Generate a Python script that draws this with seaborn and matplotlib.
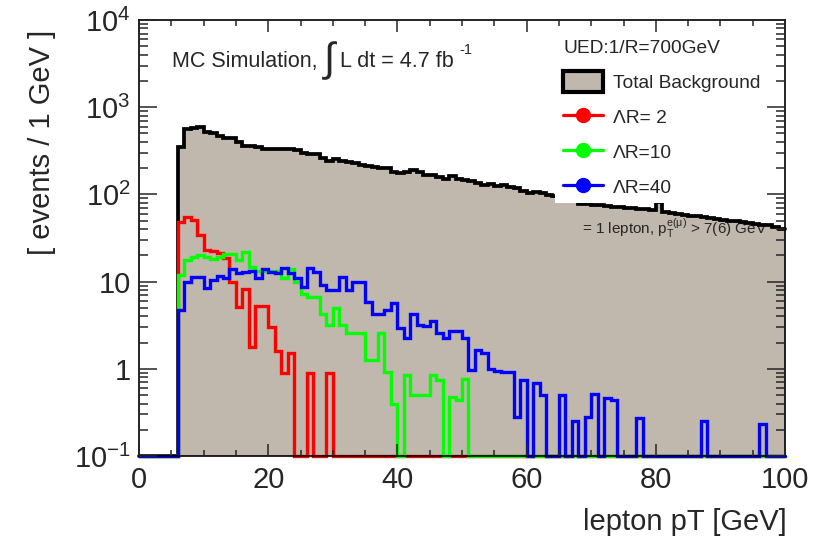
import numpy as np
import pandas as pd
import matplotlib
matplotlib.use("Agg")
import matplotlib.pyplot as plt
import seaborn as sns
from matplotlib.patches import Patch, Rectangle
from matplotlib.lines import Line2D
from matplotlib.ticker import LogLocator, NullFormatter, MultipleLocator

# ---------------- data (1 GeV bins, 0..100 GeV) ----------------
bin_edges = list(range(0, 101))

background = [0, 0, 0, 0, 0, 0,
              352, 561, 572, 592, 523, 501, 471, 440, 447, 402,
              362, 356, 347, 334, 331, 331, 329, 329, 325, 296,
              288, 288, 263, 241, 252, 241, 237, 227, 217, 213,
              204, 199, 199, 180, 178, 180, 188, 183, 168, 166,
              158, 152, 164, 150, 147, 141, 134, 128, 132, 124,
              127, 121, 117, 110, 104, 106, 103, 98, 95, 92,
              90, 86, 78, 77, 76, 75, 73, 72, 71, 70,
              70, 68, 68, 67, 82, 63, 61, 60, 58, 57,
              56, 55, 53, 52, 51, 50, 49, 48, 47, 46,
              45, 44, 42, 40]

signal_dr2 = [0, 0, 0, 0, 0, 0,
              48, 55, 51, 34, 23, 22.5, 21.5, 18.5, 10, 5.1,
              8.2, 1.8, 5.2, 5.2, 3.0, 1.6, 0.9, 1.5, 0, 0,
              0.9, 0, 0, 0.9, 0, 0, 0, 0, 0, 0] + [0] * 64

signal_dr10 = [0, 0, 0, 0, 0, 0,
               12, 17.5, 19.4, 20, 19, 18, 19.4, 21, 20.5, 17.7,
               22, 14.6, 13.4, 13.4, 13.4, 13.4, 10.9, 14, 9.8, 7.2,
               6.6, 6.6, 4.3, 3.2, 5.0, 3.2, 2.6, 2.6, 2.6, 1.27,
               1.27, 2.6, 0.93, 0.40, 0, 0.86, 0.5, 0.5, 0.5, 0.86,
               0.75, 0, 0.48, 0.44, 0.76, 0, 0, 0, 0, 0] + [0] * 44

signal_dr40 = [0, 0, 0, 0, 0, 0,
               4.7, 10, 11.3, 11.3, 8.5, 10.5, 11.5, 11, 13.8, 12.5,
               12.8, 13.1, 11, 13.8, 12.8, 12.7, 14.2, 12.4, 11, 8.7,
               14.2, 13, 9.2, 8.0, 8.1, 11.2, 8.0, 10, 10, 5.9,
               4.2, 4.2, 4.7, 5.7, 2.9, 2.25, 4.3, 3.2, 3.1, 3.5,
               2.6, 2.25, 2.7, 2.7, 2.25, 0.97, 1.65, 1.5, 1.0, 0.95,
               0.93, 0.93, 0.28, 0.75, 0, 0.69, 0.5, 0, 0, 0.5,
               0, 0.25, 0, 0.28, 0.51, 0, 0.46, 0.44, 0, 0,
               0, 0.27, 0, 0, 0, 0, 0, 0, 0, 0,
               0, 0.25, 0, 0, 0, 0, 0, 0, 0, 0,
               0.23, 0, 0, 0]

series_labels = ["Total Background", "\u039bR= 2", "\u039bR=10", "\u039bR=40"]
y_tick_values = [0.1, 1, 10, 100, 1000, 10000]
y_tick_labels = [r"10$^{-1}$", "1", "10", r"10$^{2}$", r"10$^{3}$", r"10$^{4}$"]
x_tick_values = [0, 20, 40, 60, 80, 100]

# ---------------- style ----------------
sns.set_style("ticks")
plt.rcParams["font.family"] = ["Liberation Sans", "DejaVu Sans"]
plt.rcParams["mathtext.fontset"] = "custom"
plt.rcParams["mathtext.rm"] = "Liberation Sans"
plt.rcParams["mathtext.it"] = "Liberation Sans:italic"
plt.rcParams["mathtext.bf"] = "Liberation Sans:bold"
plt.rcParams["mathtext.default"] = "regular"

FILL = "#c0b7ad"
YMIN, YMAX = 0.1, 1e4
W, H = 825, 539

edges = [float(e) for e in bin_edges]
centers = [0.5 * (a + b) for a, b in zip(edges[:-1], edges[1:])]
df = pd.DataFrame({
    "pt": centers,
    "bkg": np.maximum(np.array(background, float), YMIN),
    "s2": np.maximum(np.array(signal_dr2, float), YMIN),
    "s10": np.maximum(np.array(signal_dr10, float), YMIN),
    "s40": np.maximum(np.array(signal_dr40, float), YMIN),
})

fig = plt.figure(figsize=(8.25, 5.39), dpi=100)
ax = fig.add_axes([139 / W, 1 - 456 / H, 646 / W, 436 / H])

sns.histplot(data=df, x="pt", weights="bkg", bins=edges, element="step",
             fill=True, color=FILL, alpha=1, linewidth=0, ax=ax, zorder=1)
sns.histplot(data=df, x="pt", weights="bkg", bins=edges, element="step",
             fill=False, color="black", linewidth=2.7, ax=ax, zorder=1.8)
for col, c, z in [("s2", "#ff0000", 1.9), ("s10", "#00ff00", 1.95), ("s40", "#0000ff", 1.99)]:
    sns.histplot(data=df, x="pt", weights=col, bins=edges, element="step",
                 fill=False, color=c, linewidth=2.4, ax=ax, zorder=z)
for ln in ax.lines:
    ln.set_clip_on(False)
    ln.set_solid_joinstyle("miter")

ax.set_yscale("log")
ax.set_xlim(0, 100)
ax.set_ylim(YMIN, YMAX)

# ticks (ROOT style, inside on all sides)
ax.set_xticks(x_tick_values)
ax.set_xticklabels([str(v) for v in x_tick_values])
ax.xaxis.set_minor_locator(MultipleLocator(5))
ax.set_yticks(y_tick_values)
ax.set_yticklabels(y_tick_labels)
ax.yaxis.set_minor_locator(LogLocator(base=10, subs=np.arange(2, 10)))
ax.yaxis.set_minor_formatter(NullFormatter())
ax.tick_params(axis="x", which="major", direction="in", length=8.6, width=1.1,
               top=True, labelsize=21, pad=7)
ax.tick_params(axis="x", which="minor", direction="in", length=4.3, width=1.1, top=True)
ax.tick_params(axis="y", which="major", direction="in", length=13, width=1.1,
               right=True, labelsize=21, pad=6)
ax.tick_params(axis="y", which="minor", direction="in", length=6.5, width=1.1, right=True)
for s in ax.spines.values():
    s.set_linewidth(1.2)
    s.set_color("black")
ax.set_axisbelow(False)
ax.set_xlabel("")
ax.set_ylabel("")

# white legend panel covering part of the plot
ax.add_patch(Rectangle((0.644, 0.58), 0.356, 0.42, transform=ax.transAxes,
                       facecolor="white", edgecolor="none", zorder=2.2))

handles = [Patch(facecolor=FILL, edgecolor="black", linewidth=3),
           Line2D([], [], color="#ff0000", lw=2.3, marker="o", markersize=10),
           Line2D([], [], color="#00ff00", lw=2.3, marker="o", markersize=10),
           Line2D([], [], color="#0000ff", lw=2.3, marker="o", markersize=10)]
leg = ax.legend(handles, series_labels, title="UED:1/R=700GeV", loc="upper left",
                bbox_to_anchor=(0.645, 0.972), frameon=False, fontsize=13.8,
                title_fontsize=13.8, handlelength=2.05, handleheight=1.3,
                labelspacing=0.74, handletextpad=0.55, borderaxespad=0, alignment="left")
leg.set_zorder(5)

# "MC Simulation, \int L dt = 4.7 fb^-1" composed piecewise
renderer = fig.canvas.get_renderer()
base_y = 1 - 67 / H
t1 = fig.text(172 / W, base_y, "MC Simulation,", fontsize=15.5, va="baseline", ha="left")
x = t1.get_window_extent(renderer).x1 + 5
t2 = fig.text(x / W, 1 - 61 / H, r"$\int$", fontsize=29, va="center", ha="left",
              math_fontfamily="cm")
x = t2.get_window_extent(renderer).x1 + 1
t3 = fig.text(x / W, base_y, "L dt = 4.7 fb", fontsize=15.5, va="baseline", ha="left")
x = t3.get_window_extent(renderer).x1 + 5
fig.text(x / W, base_y + 13 / H, "-1", fontsize=10.5, va="baseline", ha="left")

ax.text(0.686, 0.523, r"= 1 lepton, p$_{T}^{e(\mu)}$ > 7(6) GeV",
        transform=ax.transAxes, fontsize=11, va="center", ha="left", zorder=1.5)

fig.text(787 / W, 1 - 522 / H, "lepton pT [GeV]", ha="right", va="center", fontsize=21)
fig.text(42 / W, 1 - 30 / H, "[ events / 1 GeV ]", ha="center", va="top",
         rotation=90, fontsize=21)

fig.savefig("out.png", dpi=100)
